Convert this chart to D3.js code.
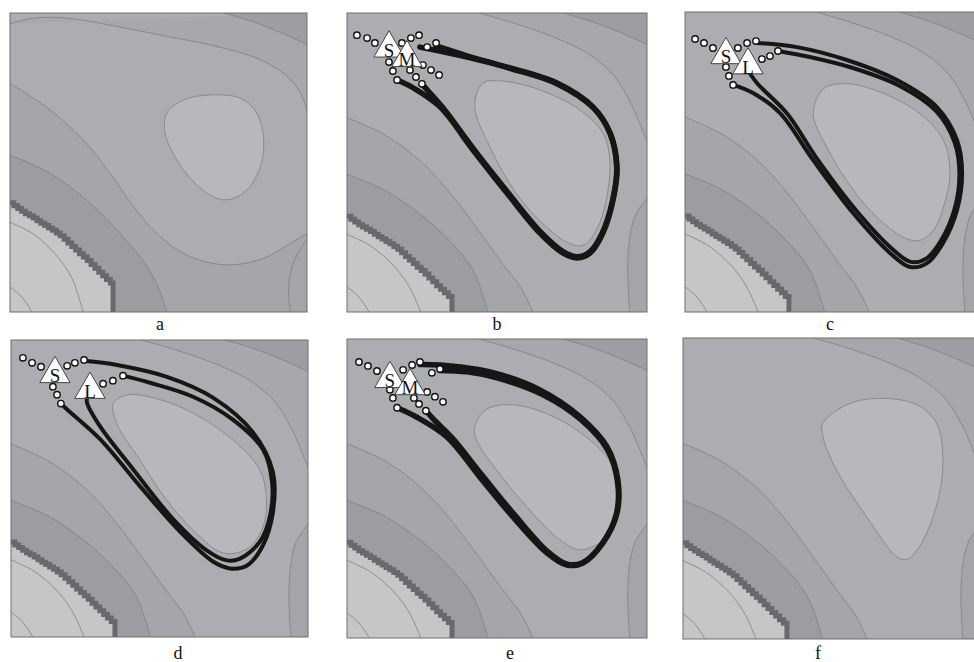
<!DOCTYPE html>
<html>
<head>
<meta charset="utf-8">
<script src="https://cdn.jsdelivr.net/npm/d3@7"></script>
<style>
  body { margin: 0; background: #fff; }
  svg { display: block; }
</style>
</head>
<body>
<svg width="974" height="662"></svg>
<script>
// all field / path values are in panel units: x 0..100 (left->right), y 0..100 (top->bottom)

var panelNames = ["a", "b", "c", "d", "e", "f"];

// contour lines shared by panels b-f
var topLine    = [[44,0],[56,3.5],[70,8.5],[81,14],[89,21],[94.5,30],[98,38],[100,43]];
var cornerLine = [[72,0],[82,3],[91,6.5],[100,10.5]];
var leftLine   = [[0,35],[13,41],[25,50],[35,61],[44,73],[52,84],[58,92],[62,100]];
var lowLine    = [[0,54],[12,59],[24,67],[34,76],[42,86],[47,100]];
var lobeLine   = [[100,62],[96,68],[94,77],[93.6,88],[94.2,100]];
var arcOuter   = [[0,74],[8,78],[16,85],[21,92],[24.6,100]];
var arcInner   = [[0,91.6],[4,95],[7.4,100]];
var stairLine  = [[0,68],[1.3,69],[2.6,69.9],[3.9,70.8],[5.2,71.6],[6.5,72.3],[7.8,73.1],[9.1,74],
                  [10.4,74.8],[11.7,75.6],[13,76.4],[14.3,77.2],[15.6,78.1],[16.9,79],[18.2,80.2],
                  [19.5,81.4],[20.8,82.6],[22.1,83.8],[23.4,85],[24.7,86.1],[26,87.3],[27.3,88.6],
                  [28.6,89.9],[29.9,91.2],[31.2,92.4],[32.5,93.6],[33.8,94.8],[35,96],[35,100]];

// panel a has its own outer contours
var topLineA   = [[0,3.6],[7.9,1.7],[19.1,1.7],[36,4.5],[52.8,7.8],[69.7,11.2],[84.3,15.6],[93.3,21.2],[97.8,26.8],[100,32.4]];
var leftLineA  = [[0,23.5],[13.5,32.4],[24.7,42.5],[33.7,53.6],[41.6,64.8],[49.4,73.7],[58.4,80.4],[68.5,83.8],
                  [77.5,84],[86.5,81.6],[93.3,77.7],[100,73.7]];
var lowLineA   = [[0,47.5],[13.5,53.6],[25.8,62.6],[36,72.6],[43.8,81.6],[49.4,90.5],[52.8,100]];
var lobeLineA  = [[100,76],[96.5,81],[94.2,88],[93.8,94],[94.4,100]];
var arcOuterA  = [[0,70],[8,74],[16,81.5],[21,89],[24.6,100]];
var stairLineA = [[0,63.5],[1.3,64.5],[2.6,65.4],[3.9,66.3],[5.2,67.1],[6.5,67.8],[7.8,68.6],[9.1,69.5],
                  [10.4,70.3],[11.7,71.1],[13,71.9],[14.3,72.7],[15.6,73.6],[16.9,74.5],[18.2,75.7],
                  [19.5,76.9],[20.8,78.1],[22.1,79.3],[23.4,80.5],[24.7,81.6],[26,82.8],[27.3,84.1],
                  [28.6,85.4],[29.9,86.7],[31.2,87.9],[32.5,89.1],[33.8,90.3],[34.7,91.5],[34.7,100]];

// basin contour, one per panel
var basinA = [[67.4,27.4],[77.5,28.5],[83.1,33.5],[85.4,42.5],[84.3,51.4],[79.8,59.2],[74.2,62.3],
              [69.7,62],[62.9,57.5],[56.2,49.2],[52.2,40.2],[52.8,33.5],[58.4,29.1]];
var basinB = [[45.3,23.5],[53.1,22.9],[64.2,25.7],[77.6,32.4],[85.3,40.2],[87.6,49.2],[86.4,62.6],
              [83.1,72.6],[78.7,77.7],[74.2,77.1],[66.4,71.5],[56.4,60.3],[47.6,44.7],[42.6,31.3]];
var basinC = [[46.6,25.6],[54.4,23.9],[65.7,26.7],[79.1,33.9],[87,42.8],[89.2,53.9],[87,65],
              [83.6,72.8],[79.1,76.1],[74.6,75.6],[65.7,69.4],[56.7,59.4],[47.7,45],[43.2,33.9]];
var basinD = [[39,18.5],[49,19.7],[61.4,24.7],[74.8,33.7],[83.8,43.8],[86,53.9],[84.9,62.9],
              [80.4,69.7],[74.8,71.9],[70.3,71.3],[62.5,65.2],[52.4,53.9],[43.4,40.4],[35.6,28.1],[34.5,21.3]];
var basinE = [[46.4,23.6],[55.3,22],[68.7,25.9],[80.9,33.7],[88.7,42.6],[90.9,52.6],[88.7,62.7],
              [84.2,68.2],[77.6,70.5],[70.9,67.1],[59.8,56],[49.8,43.7],[43.1,33.7],[42.6,29.2]];
var basinF = [[58.4,21],[77.4,21.6],[85.3,28.2],[87.5,41.5],[85.3,55.9],[79.7,69.2],[75.2,73.6],
              [71.8,72.5],[61.7,59.2],[51.6,43.7],[47.1,32.7],[47.1,28.2]];

// trajectories (loops) per panel
var loopsB = [
  [[24.3,11.4],[36.7,14],[53.3,18.1],[70,23.4],[82,31.4],[87.7,40.1],[90,51.5],[88.7,62.5],[85.3,73.6],
   [81,80.3],[76.7,81.9],[72,80.3],[64.3,73.6],[53.3,60.2],[42,45.8],[31,31.4],[22,25],[16.7,22.4]],
  [[29.7,11],[40,14.3],[54,18.4],[70.3,23.8],[82.2,31.8],[87.8,40.6],[89.9,51.8],[88.5,62.8],[85,73.7],
   [80.8,80],[76.7,81.5],[72.2,79.9],[64.6,73.3],[53.7,60.1],[42.5,45.9],[32,31.7],[27,26],[25,23.7]]
];
var loopsC = [
  [[24.2,10.3],[37.7,11.7],[54.5,16],[71.4,22.7],[84.8,31.7],[91.6,42.7],[93.3,53.7],[91.6,66],[86.9,77],
   [81.5,83.7],[75.8,85],[69,80.3],[56.6,67],[43.1,49.3],[32,33.7],[22.9,27],[16.2,24.3]],
  [[31.3,13],[42,15],[56,18.5],[72,24.5],[84.5,33],[90.8,43.5],[92.4,54],[90.8,65.5],[86.3,76],
   [81.2,82.2],[76,83.3],[69.8,79],[57.5,66],[44.5,49],[34.5,34],[24.5,24],[21.5,20]]
];
var loopsD = [
  [[24.6,7],[35.7,8.4],[52.5,12.4],[68,19.4],[81.5,31.1],[88.2,44.5],[88.2,57.9],[84.8,69.2],[79.5,75.9],
   [73.7,76.9],[68,74.6],[56.9,64.5],[43.4,49.2],[30,33.4],[18.9,23.4],[16.8,21.4]],
  [[37.7,12],[46.8,14.4],[61.3,19.1],[74.7,26.8],[84.8,36.8],[87.9,47.8],[87.2,59.2],[83.8,67.9],[77.1,73.6],
   [72.7,74.2],[66,70.9],[54.5,60.2],[41.1,43.5],[30,29.1],[25.6,21.1],[25.6,19.4]]
];
var loopsE = [
  [[24.3,8.5],[31,8.7],[47.7,11],[64.3,17],[77.7,26],[86.7,36.1],[90.3,47.2],[90,58.2],[85.3,68.2],
   [78.7,74.9],[73.3,75.6],[66.7,71.6],[55.3,59.5],[44.3,46.2],[33.3,32.8],[23,26],[16.7,23]],
  [[31,10.5],[40,11],[50,13],[65,18.5],[78,27],[86.8,37],[90.2,48],[89.8,58.5],[85,68.5],
   [78.5,74.8],[73.3,75.3],[67,71.2],[56,59],[45,45.5],[35,33],[29,27],[26.3,24]]
];

// start points (white circles) per panel
var dotsB = [[3.3,7.4],[6.7,8.4],[9.3,10],[18.3,10],[21.3,8.4],[24,7.4],[26.7,11.4],[29.7,10],
             [14,16.4],[15.3,19.4],[16.7,22.4],[21,19.1],[23,21.4],[25,23.7],[25.3,17.4],[28,19.1],[30.7,20.7]];
var dotsC = [[3.4,9],[6.4,10.3],[9.4,12],[17.8,12],[20.9,10.3],[23.9,9.7],[25.9,15.7],[28.6,14.7],[31.3,13],
             [13.8,18.3],[14.8,21.3],[16.2,24.3]];
var dotsD = [[4,6],[7.1,7.7],[10.1,9],[18.9,8.7],[21.5,7.7],[24.6,6.7],[31,14.7],[34.3,13.7],[37.7,12],
             [14.1,15.7],[15.5,18.4],[16.8,21.4]];
var dotsE = [[4,7.7],[7,9],[10,10.7],[18.7,10.3],[21.7,8.7],[24.3,7.7],[28.3,11.3],[31,10],
             [14.3,17],[15.3,19.7],[16.7,23],[22.3,19.7],[24,21.7],[26.3,24],[26.7,17.7],[29.3,19.3],[32,21]];

// triangle markers per panel: [x, y, letter]
var marksB = [[14,11.8,"S"],[20,15,"M"]];
var marksC = [[13.8,14.3,"S"],[21.2,17.7,"L"]];
var marksD = [[14.8,11.4,"S"],[26.6,16.7,"L"]];
var marksE = [[14.3,13.3,"S"],[21,15.7,"M"]];

var fieldA = {top: topLineA, left: leftLineA, low: lowLineA, lobe: lobeLineA, stair: stairLineA, arc: arcOuterA, leftClose: [[100,100],[0,100]]};
var fieldX = {top: topLine,  left: leftLine,  low: lowLine,  lobe: lobeLine,  stair: stairLine,  arc: arcOuter,  leftClose: [[0,100]]};

var fields = [fieldA, fieldX, fieldX, fieldX, fieldX, fieldX];
var basins = [basinA, basinB, basinC, basinD, basinE, basinF];
var loops  = [[], loopsB, loopsC, loopsD, loopsE, []];
var dots   = [[], dotsB, dotsC, dotsD, dotsE, []];
var marks  = [[], marksB, marksC, marksD, marksE, []];

// panel boxes and caption spots (layout)
var boxes = [
  {x: 10,  y: 13,  w: 297, h: 299, lx: 160, ly: 330},
  {x: 347, y: 13,  w: 300, h: 299, lx: 497, ly: 330},
  {x: 685, y: 12,  w: 297, h: 300, lx: 830, ly: 330},
  {x: 11,  y: 340, w: 297, h: 297, lx: 178, ly: 659},
  {x: 347, y: 339, w: 300, h: 299, lx: 510, ly: 659},
  {x: 683, y: 338, w: 297, h: 301, lx: 818, ly: 659}
];

var col = {
  main: "#abadb0", topBand: "#a6a8ab", corner: "#9c9ea1", band1: "#a4a6a9", band2: "#9b9da0",
  inside: "#c5c6c8", lobe: "#a3a5a8", basin: "#b6b8bb", contour: "#7e8083", stair: "#68696c"
};

var svg = d3.select("svg");

panelNames.forEach(function(name, i) {
  var b = boxes[i], f = fields[i];
  var x = d3.scaleLinear().domain([0, 100]).range([b.x, b.x + b.w]);
  var y = d3.scaleLinear().domain([0, 100]).range([b.y, b.y + b.h]);

  var smooth = d3.line().x(function(d) { return x(d[0]); }).y(function(d) { return y(d[1]); })
    .curve(d3.curveCatmullRom.alpha(0.5));
  var steps = d3.line().x(function(d) { return x(d[0]); }).y(function(d) { return y(d[1]); })
    .curve(d3.curveStepAfter);
  var closed = d3.line().x(function(d) { return x(d[0]); }).y(function(d) { return y(d[1]); })
    .curve(d3.curveCatmullRomClosed.alpha(0.5));

  function region(gen, pts, corners) {
    var s = gen(pts);
    corners.forEach(function(c) { s += "L" + x(c[0]) + "," + y(c[1]); });
    return s + "Z";
  }

  svg.append("clipPath").attr("id", "clip" + name)
    .append("rect").attr("x", b.x).attr("y", b.y).attr("width", b.w).attr("height", b.h);

  var g = svg.append("g").attr("clip-path", "url(#clip" + name + ")");

  g.append("rect").attr("x", b.x).attr("y", b.y).attr("width", b.w).attr("height", b.h)
    .attr("fill", col.main);

  g.append("path").attr("d", region(smooth, f.top, [[100,0]])).attr("fill", col.topBand);
  g.append("path").attr("d", region(smooth, cornerLine, [[100,0]])).attr("fill", col.corner);
  g.append("path").attr("d", region(smooth, f.left, f.leftClose)).attr("fill", col.band1);
  g.append("path").attr("d", region(smooth, f.low, [[0,100]])).attr("fill", col.band2);
  g.append("path").attr("d", region(steps, f.stair, [[0,100]])).attr("fill", col.inside);
  g.append("path").attr("d", region(smooth, f.lobe, [[100,100]])).attr("fill", col.lobe);
  g.append("path").attr("d", closed(basins[i])).attr("fill", col.basin);

  [f.top, cornerLine, f.left, f.low, f.lobe, f.arc, arcInner].forEach(function(l) {
    g.append("path").attr("d", smooth(l)).attr("fill", "none")
      .attr("stroke", col.contour).attr("stroke-width", 0.8);
  });
  g.append("path").attr("d", closed(basins[i])).attr("fill", "none")
    .attr("stroke", col.contour).attr("stroke-width", 0.8);
  g.append("path").attr("d", steps(f.stair)).attr("fill", "none")
    .attr("stroke", col.stair).attr("stroke-width", 5).attr("stroke-linejoin", "miter");

  var lw = (i === 1 || i === 4) ? 5.5 : 4;
  g.selectAll(".loop").data(loops[i]).enter().append("path")
    .attr("class", "loop")
    .attr("d", function(d) { return smooth(d); })
    .attr("fill", "none").attr("stroke", "#161616").attr("stroke-width", lw)
    .attr("stroke-linecap", "round");

  g.selectAll(".dot").data(dots[i]).enter().append("circle")
    .attr("class", "dot")
    .attr("cx", function(d) { return x(d[0]); }).attr("cy", function(d) { return y(d[1]); })
    .attr("r", 3.2).attr("fill", "#fff").attr("stroke", "#111").attr("stroke-width", 1.4);

  var tri = d3.symbol().type(d3.symbolTriangle).size(400);
  var m = g.selectAll(".mark").data(marks[i]).enter().append("g")
    .attr("class", "mark")
    .attr("transform", function(d) { return "translate(" + x(d[0]) + "," + y(d[1]) + ")"; });
  m.append("path").attr("d", tri).attr("fill", "#fff").attr("stroke", "#444").attr("stroke-width", 1);
  m.append("text").attr("y", 8.5).attr("text-anchor", "middle")
    .attr("font-family", "Liberation Serif, DejaVu Serif, serif").attr("font-size", 19)
    .attr("fill", "#111").text(function(d) { return d[2]; });

  svg.append("rect").attr("x", b.x).attr("y", b.y).attr("width", b.w).attr("height", b.h)
    .attr("fill", "none").attr("stroke", "#6e6e6e").attr("stroke-width", 1);

  svg.append("text").attr("x", b.lx).attr("y", b.ly).attr("text-anchor", "middle")
    .attr("font-family", "Liberation Serif, DejaVu Serif, serif").attr("font-size", 18)
    .attr("fill", "#111").text(name);
});
</script>
</body>
</html>
